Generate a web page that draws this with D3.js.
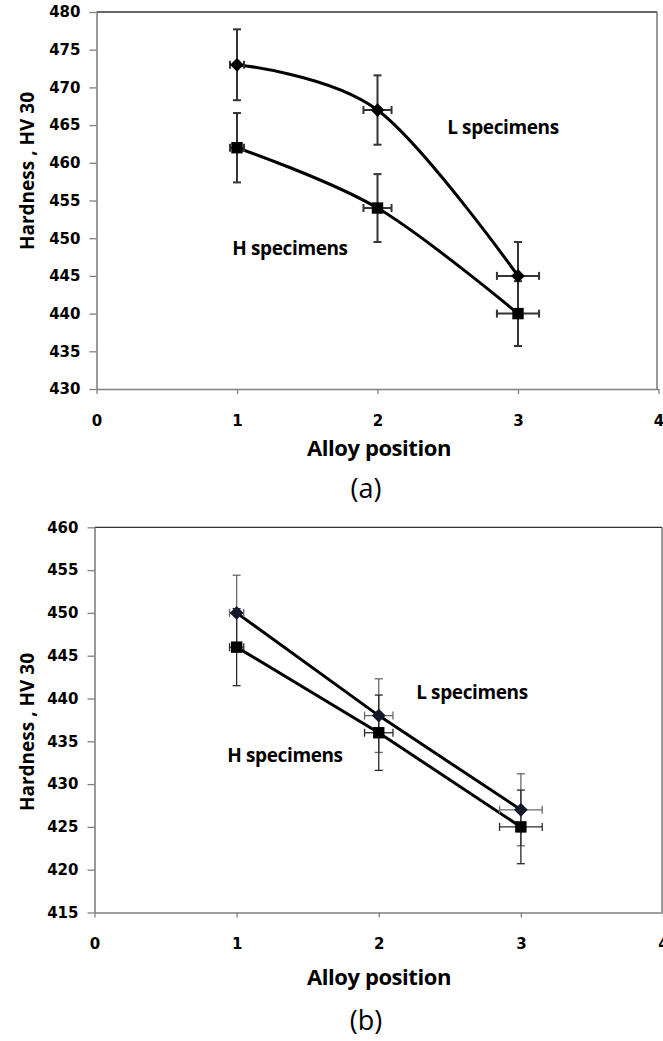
<!DOCTYPE html>
<html>
<head>
<meta charset="utf-8">
<script src="https://cdn.jsdelivr.net/npm/d3@7"></script>
<style>
  html, body { margin: 0; padding: 0; background: #fff; }
  svg { display: block; }
</style>
</head>
<body>
<div id="chart"></div>
<script>
// shared x data
const positions = [1, 2, 3];
const xErr = [0.05, 0.1, 0.15];
const xTicks = [0, 1, 2, 3, 4];

// panel (a)
const aLValues = [473, 467, 445];
const aLErr = [4.7, 4.6, 4.5];
const aHValues = [462, 454, 440];
const aHErr = [4.6, 4.5, 4.3];
const aTicks = [430, 435, 440, 445, 450, 455, 460, 465, 470, 475, 480];

// panel (b)
const bLValues = [450, 438, 427];
const bLErr = [4.4, 4.3, 4.2];
const bHValues = [446, 436, 425];
const bHErr = [4.5, 4.4, 4.3];
const bTicks = [415, 420, 425, 430, 435, 440, 445, 450, 455, 460];

const width = 663;
const height = 1041;

const tickFont = "'DejaVu Sans', Verdana, sans-serif";
const labelFont = "'Open Sans', 'Noto Sans', sans-serif";

const svg = d3.select("#chart")
  .append("svg")
  .attr("width", width)
  .attr("height", height);

const toPoints = (vals, errs) => vals.map((v, i) => ({ x: positions[i], y: v, e: errs[i], xe: xErr[i] }));

const panels = [
  {
    left: 96.5, right: 658.5, top: 12, bottom: 389, frameRight: 657,
    yTicks: aTicks, tag: "(a)", smooth: true,
    L: toPoints(aLValues, aLErr), H: toPoints(aHValues, aHErr),
    lLabel: [503, 134], hLabel: [290, 255],
    lErrColor: "#333", hErrColor: "#333", errWidth: 2,
    lMarker: "#000", yTitleY: 171, tagY: 498, titleY: 456
  },
  {
    left: 94.5, right: 663, top: 527.3, bottom: 912.5, frameRight: 662,
    yTicks: bTicks, tag: "(b)", smooth: false,
    L: toPoints(bLValues, bLErr), H: toPoints(bHValues, bHErr),
    lLabel: [472, 699], hLabel: [285, 762],
    lErrColor: "#6a6a6a", hErrColor: "#2a2a2a", errWidth: 1.3,
    lMarker: "#14182b", yTitleY: 732, tagY: 1030, titleY: 985
  }
];

panels.forEach(p => {
  const x = d3.scaleLinear().domain([0, 4]).range([p.left, p.right]);
  const y = d3.scaleLinear().domain(d3.extent(p.yTicks)).range([p.bottom, p.top]);
  const g = svg.append("g");

  // frame top + right
  g.append("line")
    .attr("x1", p.left).attr("x2", p.frameRight)
    .attr("y1", p.top).attr("y2", p.top)
    .attr("stroke", "#333").attr("stroke-width", 1.3);
  g.append("line")
    .attr("x1", p.frameRight).attr("x2", p.frameRight)
    .attr("y1", p.top).attr("y2", p.bottom)
    .attr("stroke", "#555").attr("stroke-width", 1.2);

  // y axis
  const yAxis = g.append("g")
    .attr("transform", `translate(${p.left},0)`)
    .call(d3.axisLeft(y).tickValues(p.yTicks).tickSize(7).tickSizeOuter(0).tickPadding(9));
  yAxis.selectAll("text")
    .attr("font-family", tickFont).attr("font-weight", "bold")
    .attr("font-size", 15).attr("fill", "#000");

  // x axis
  const xAxis = g.append("g")
    .attr("transform", `translate(0,${p.bottom})`)
    .call(d3.axisBottom(x).tickValues(xTicks).tickFormat(d3.format("d")).tickSize(5).tickSizeOuter(0).tickPadding(21));
  xAxis.selectAll("text")
    .attr("font-family", tickFont).attr("font-weight", "bold")
    .attr("font-size", 15).attr("fill", "#000");

  [yAxis, xAxis].forEach(ax => {
    ax.select(".domain").attr("stroke", "#808080").attr("stroke-width", 1.6);
    ax.selectAll(".tick line").attr("stroke", "#808080").attr("stroke-width", 1.3);
  });

  // series lines
  const line = d3.line()
    .x(d => x(d.x))
    .y(d => y(d.y))
    .curve(p.smooth ? d3.curveCardinal.tension(0) : d3.curveLinear);

  [p.L, p.H].forEach(data => {
    g.append("path")
      .datum(data)
      .attr("d", line)
      .attr("fill", "none")
      .attr("stroke", "#000")
      .attr("stroke-width", 3);
  });

  // error bars
  const cap = 4;
  const drawErr = (data, color) => {
    const eg = g.append("g").attr("stroke", color).attr("stroke-width", p.errWidth);
    data.forEach(d => {
      const cx = x(d.x), cy = y(d.y);
      const y0 = y(d.y - d.e), y1 = y(d.y + d.e);
      const x0 = x(d.x - d.xe), x1 = x(d.x + d.xe);
      eg.append("line").attr("x1", cx).attr("x2", cx).attr("y1", y0).attr("y2", y1);
      eg.append("line").attr("x1", cx - cap).attr("x2", cx + cap).attr("y1", y0).attr("y2", y0);
      eg.append("line").attr("x1", cx - cap).attr("x2", cx + cap).attr("y1", y1).attr("y2", y1);
      eg.append("line").attr("x1", x0).attr("x2", x1).attr("y1", cy).attr("y2", cy);
      eg.append("line").attr("x1", x0).attr("x2", x0).attr("y1", cy - cap).attr("y2", cy + cap);
      eg.append("line").attr("x1", x1).attr("x2", x1).attr("y1", cy - cap).attr("y2", cy + cap);
    });
  };
  drawErr(p.L, p.lErrColor);
  drawErr(p.H, p.hErrColor);

  // markers: diamond for L, square for H
  g.selectAll(".mL")
    .data(p.L)
    .join("path")
    .attr("d", d3.symbol(d3.symbolSquare, 95))
    .attr("transform", d => `translate(${x(d.x)},${y(d.y)}) rotate(45)`)
    .attr("fill", p.lMarker);

  g.selectAll(".mH")
    .data(p.H)
    .join("path")
    .attr("d", d3.symbol(d3.symbolSquare, 130))
    .attr("transform", d => `translate(${x(d.x)},${y(d.y)})`)
    .attr("fill", "#000");

  // series labels
  [["L specimens", p.lLabel], ["H specimens", p.hLabel]].forEach(([t, pos]) => {
    g.append("text")
      .text(t)
      .attr("x", pos[0]).attr("y", pos[1])
      .attr("text-anchor", "middle")
      .attr("font-family", labelFont).attr("font-weight", 700)
      .attr("font-size", 19)
      .style("letter-spacing", "-0.02em");
  });

  // axis titles
  g.append("text")
    .text("Alloy position")
    .attr("x", 379).attr("y", p.titleY)
    .attr("text-anchor", "middle")
    .attr("font-family", labelFont).attr("font-weight", 700)
    .attr("font-size", 22)
    .style("letter-spacing", "-0.02em");

  g.append("text")
    .text("Hardness , HV 30")
    .attr("transform", `translate(34,${p.yTitleY}) rotate(-90)`)
    .attr("text-anchor", "middle")
    .attr("font-family", labelFont).attr("font-weight", 700)
    .attr("font-size", 19);

  g.append("text")
    .text(p.tag)
    .attr("x", 366).attr("y", p.tagY)
    .attr("text-anchor", "middle")
    .attr("font-family", labelFont)
    .attr("font-size", 27);
});
</script>
</body>
</html>
